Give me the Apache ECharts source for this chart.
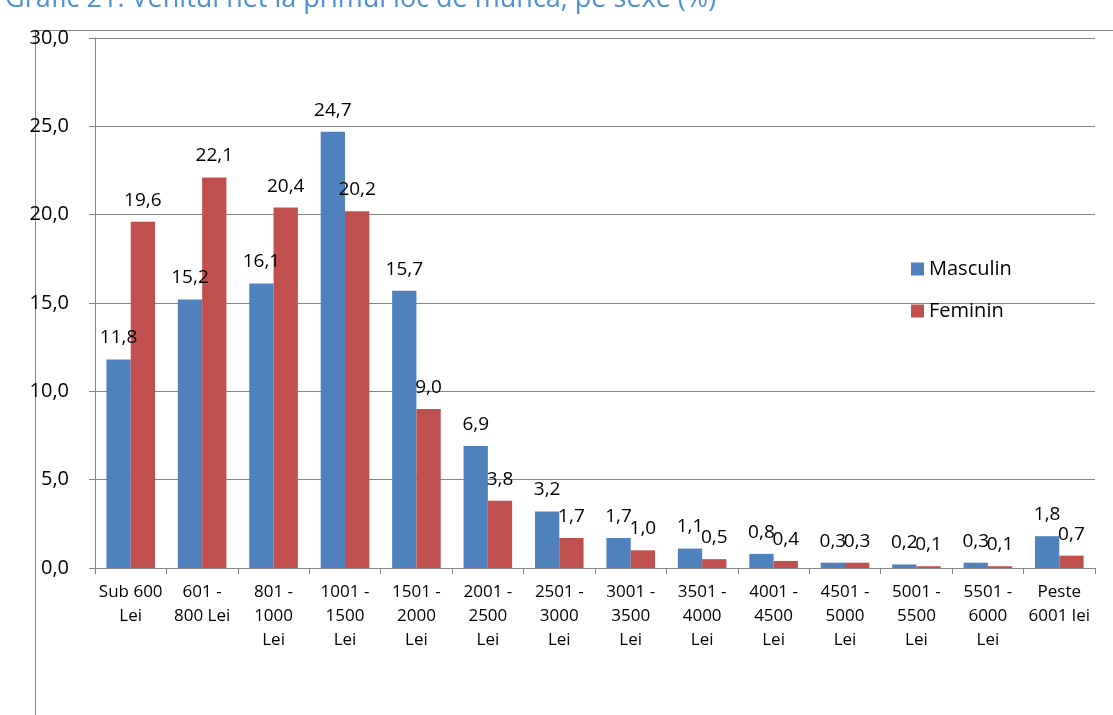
<!DOCTYPE html>
<html>
<head>
<meta charset="utf-8">
<script src="https://cdn.jsdelivr.net/npm/echarts@6/dist/echarts.min.js"></script>
<style>
  html, body { margin: 0; padding: 0; background: #fff; }
  #chart { width: 1113px; height: 715px; }
</style>
</head>
<body>
<div id="chart"></div>
<script>
// categorii (intervale de venit)
const categories = [
  'Sub 600\nLei', '601 -\n800 Lei', '801 -\n1000\nLei', '1001 -\n1500\nLei',
  '1501 -\n2000\nLei', '2001 -\n2500\nLei', '2501 -\n3000\nLei', '3001 -\n3500\nLei',
  '3501 -\n4000\nLei', '4001 -\n4500\nLei', '4501 -\n5000\nLei', '5001 -\n5500\nLei',
  '5501 -\n6000\nLei', 'Peste\n6001 lei'
];
const masculin = [11.8, 15.2, 16.1, 24.7, 15.7, 6.9, 3.2, 1.7, 1.1, 0.8, 0.3, 0.2, 0.3, 1.8];
const feminin = [19.6, 22.1, 20.4, 20.2, 9.0, 3.8, 1.7, 1.0, 0.5, 0.4, 0.3, 0.1, 0.1, 0.7];
const seriesNames = ['Masculin', 'Feminin'];

const font = 'Open Sans, Liberation Sans, sans-serif';
const fmt = v => Number(v).toFixed(1).replace('.', ',');

const chart = echarts.init(document.getElementById('chart'));
chart.setOption({
  animation: false,
  textStyle: { fontFamily: font },
  title: {
    text: 'Grafic 21. Venitul net la primul loc de muncă, pe sexe (%)',
    left: 0,
    top: -19,
    textStyle: { color: '#4f8fd6', fontSize: 27, fontWeight: 'normal', fontFamily: font }
  },
  graphic: [{
    type: 'rect',
    shape: { x: 35.5, y: 30.5, width: 1100, height: 720 },
    style: { fill: 'none', stroke: '#868686', lineWidth: 1 },
    silent: true
  }],
  legend: {
    orient: 'vertical',
    left: 906,
    top: 254,
    itemGap: 22,
    itemWidth: 13,
    itemHeight: 13,
    icon: 'rect',
    data: seriesNames,
    textStyle: { fontSize: 20, color: '#000', fontFamily: font }
  },
  grid: { left: 95, right: 18, top: 38, bottom: 147, containLabel: false },
  xAxis: {
    type: 'category',
    data: categories,
    axisLine: { lineStyle: { color: '#868686' } },
    axisTick: { show: true, length: 6, lineStyle: { color: '#868686' } },
    axisLabel: { interval: 0, fontSize: 17, lineHeight: 24, color: '#000', margin: 12 }
  },
  yAxis: {
    type: 'value',
    min: 0,
    max: 30,
    interval: 5,
    axisLine: { show: true, lineStyle: { color: '#868686' } },
    axisTick: { show: true, length: 6, lineStyle: { color: '#868686' } },
    splitLine: { lineStyle: { color: '#868686' } },
    axisLabel: { fontSize: 20, color: '#000', margin: 26, formatter: fmt }
  },
  series: [
    {
      name: seriesNames[0],
      type: 'bar',
      data: masculin,
      barGap: '0%',
      barCategoryGap: '32%',
      itemStyle: { color: '#4f81bd' },
      label: { show: true, position: 'top', distance: 12, fontSize: 19, color: '#000', formatter: p => fmt(p.value) }
    },
    {
      name: seriesNames[1],
      type: 'bar',
      data: feminin,
      itemStyle: { color: '#c0504d' },
      label: { show: true, position: 'top', distance: 12, fontSize: 19, color: '#000', formatter: p => fmt(p.value) }
    }
  ]
});
</script>
</body>
</html>
